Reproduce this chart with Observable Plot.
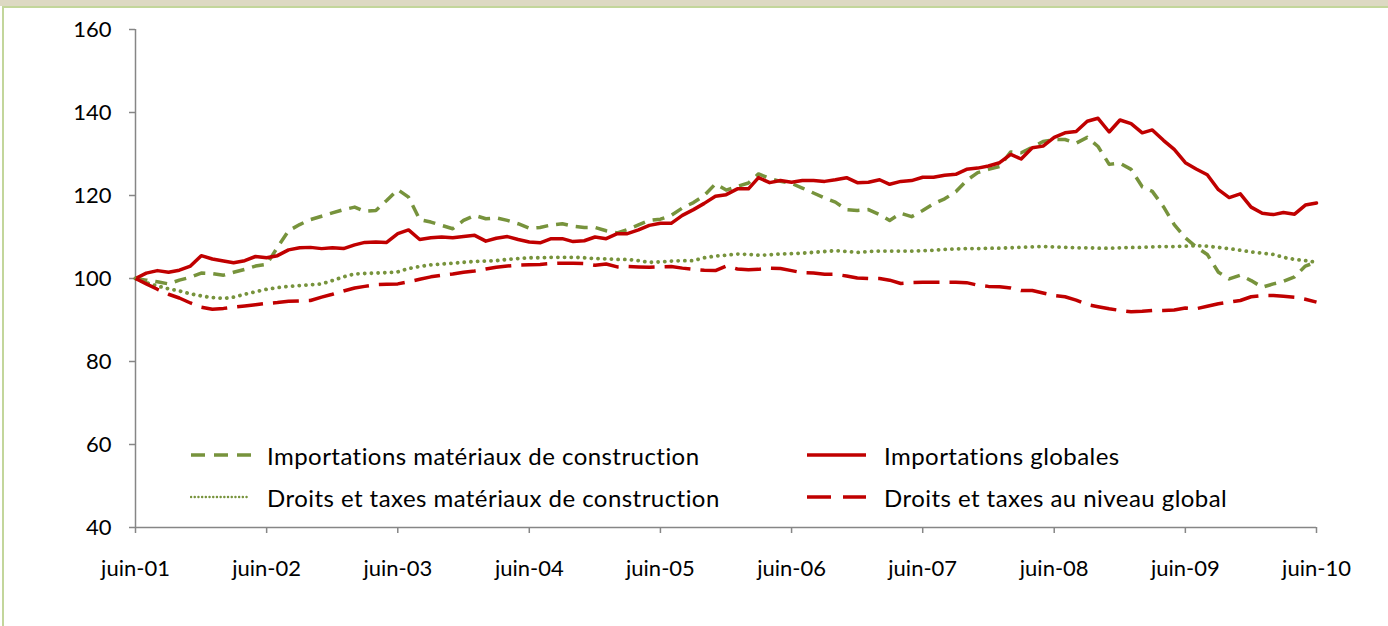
<!DOCTYPE html>
<html>
<head>
<meta charset="utf-8">
<script src="https://cdn.jsdelivr.net/npm/d3@7"></script>
<script src="https://cdn.jsdelivr.net/npm/@observablehq/plot@0.6"></script>
<style>
  html, body { margin: 0; padding: 0; background: #ffffff; }
  #wrap { position: relative; width: 1388px; height: 626px; overflow: hidden; font-family: Lato, "Open Sans", sans-serif; font-variant-ligatures: none; }
  #band { position: absolute; left: 0; top: 0; width: 1388px; height: 6px; background: #ddd9c3; z-index: 3; }
  #bandline { position: absolute; left: 2px; top: 6px; width: 1386px; height: 2px; background: #c3d69b; z-index: 3; }
  #leftline { position: absolute; left: 2px; top: 6px; width: 2px; height: 620px; background: #c3d69b; z-index: 3; }
  .leg { position: absolute; display: flex; align-items: center; font-size: 24px; letter-spacing: 0.45px; color: #000; white-space: nowrap; z-index: 2; font-variant-ligatures: none; }
  svg text { font-variant-ligatures: none; }
</style>
</head>
<body>
<div id="wrap">
  <div id="band"></div>
  <div id="bandline"></div>
  <div id="leftline"></div>
  <div id="chart"></div>
  <div id="legend"></div>
</div>
<script>
// ---- data (monthly, juin-01 .. juin-10) ----
const startYear = 2001, startMonth = 5; // June 2001
const tickLabels = ["juin-01","juin-02","juin-03","juin-04","juin-05","juin-06","juin-07","juin-08","juin-09","juin-10"];
const seriesNames = [
  "Importations matériaux de construction",
  "Importations globales",
  "Droits et taxes matériaux de construction",
  "Droits et taxes au niveau global"
];
const importsMateriaux = [
  100, 99.6, 99.2, 98.7, 99.6, 100.3, 101.3, 101.2, 100.8, 101.5,
  102.2, 103, 103.4, 107.5, 111.5, 113, 114.2, 115, 115.8, 116.6,
  117.2, 116.2, 116.4, 118.8, 121.4, 119.6, 114.2, 113.6, 112.8, 112,
  114, 115.2, 114.4, 114.6, 114, 113.2, 112.1, 112.3, 112.9, 113.2,
  112.6, 112.3, 112.3, 111.5, 111, 111.8, 112.9, 114, 114.3, 115.2,
  117, 118.3, 120, 122.8, 121.3, 122.2, 123, 125.2, 124.1, 123.4,
  122.9, 121.8, 120.6, 119.4, 118.4, 116.6, 116.4, 116.6, 115.4, 114,
  115.7, 114.9, 116.4, 118, 119.2, 120.9, 123.6, 125.5, 126.3, 127,
  130.5, 130.3, 131.6, 133, 133.5, 133.5, 132.6, 134, 131.8, 127.5,
  127.8, 126.3, 122.1, 121, 117.3, 113, 109.8, 107.6, 105.8, 101.5,
  99.9, 100.8, 99.5, 97.9, 98.7, 99.3, 100.4, 103, 104
];
const importsGlobales = [
  100, 101.3, 101.9, 101.5, 102, 103, 105.5, 104.7, 104.2, 103.8,
  104.3, 105.3, 105, 105.5, 106.9, 107.4, 107.5, 107.2, 107.4, 107.2,
  108.1, 108.7, 108.8, 108.7, 110.8, 111.7, 109.4, 109.8, 110, 109.8,
  110.1, 110.4, 109, 109.7, 110.1, 109.4, 108.8, 108.6, 109.6, 109.6,
  108.9, 109.1, 110, 109.6, 110.8, 110.8, 111.7, 112.8, 113.3, 113.3,
  115.2, 116.6, 118.1, 119.8, 120.2, 121.6, 121.6, 124.3, 123.1, 123.6,
  123.2, 123.6, 123.6, 123.4, 123.8, 124.3, 123.1, 123.2, 123.8, 122.7,
  123.4, 123.6, 124.4, 124.4, 124.9, 125.1, 126.3, 126.6, 127.1, 127.9,
  129.9, 128.8, 131.5, 131.9, 134, 135.1, 135.4, 137.9, 138.6, 135.3,
  138.2, 137.3, 135.1, 135.8, 133.3, 131.1, 127.9, 126.4, 125, 121.4,
  119.5, 120.4, 117.2, 115.7, 115.4, 115.9, 115.5, 117.7, 118.2
];
const droitsMateriaux = [
  100, 99, 98.2, 97.5, 97, 96.3, 95.8, 95.4, 95.2, 95.5,
  96.2, 96.8, 97.4, 97.8, 98.1, 98.3, 98.5, 98.7, 99.5, 100.4,
  101.1, 101.2, 101.3, 101.4, 101.6, 102.4, 102.9, 103.3, 103.5, 103.7,
  103.9, 104.1, 104.2, 104.3, 104.6, 104.8, 105, 105, 105.1, 105.1,
  105.1, 105, 104.8, 104.7, 104.6, 104.6, 104.3, 103.9, 104, 104.2,
  104.3, 104.3, 105, 105.4, 105.6, 105.9, 105.8, 105.6, 105.7, 105.9,
  106, 106.1, 106.3, 106.5, 106.7, 106.5, 106.3, 106.5, 106.6, 106.6,
  106.6, 106.6, 106.7, 106.8, 107, 107.1, 107.2, 107.2, 107.3, 107.3,
  107.4, 107.5, 107.6, 107.7, 107.6, 107.5, 107.4, 107.4, 107.3, 107.3,
  107.4, 107.5, 107.5, 107.6, 107.7, 107.7, 107.8, 107.9, 107.8, 107.5,
  107.2, 106.8, 106.4, 106.1, 105.8, 105.1, 104.6, 104.3, 103.9
];
const droitsGlobal = [
  100, 98.7, 97.4, 96.2, 95.3, 94.1, 93.1, 92.6, 92.8, 93.1,
  93.4, 93.7, 94, 94.2, 94.5, 94.6, 94.7, 95.5, 96.2, 97,
  97.7, 98.1, 98.5, 98.6, 98.7, 99.2, 99.8, 100.4, 100.8, 101.1,
  101.5, 101.8, 102.3, 102.7, 103, 103.2, 103.3, 103.4, 103.6, 103.7,
  103.7, 103.6, 103.2, 103.5, 102.8, 102.9, 102.8, 102.7, 102.8, 102.9,
  102.5, 102.2, 102, 101.9, 103, 102.3, 102.1, 102.2, 102.5, 102.4,
  101.9, 101.4, 101.3, 101, 101, 100.6, 100.1, 100, 100, 99.6,
  98.8, 99, 99.1, 99.1, 99.1, 99.1, 99, 98.4, 98.1, 98,
  97.7, 97.1, 97.1, 96.5, 95.9, 95.6, 94.8, 93.7, 93.2, 92.7,
  92.3, 92, 92.1, 92.3, 92.3, 92.4, 92.9, 92.7, 93.3, 93.9,
  94.3, 94.7, 95.6, 95.9, 95.9, 95.7, 95.5, 95, 94.3
];
const yTicks = [40, 60, 80, 100, 120, 140, 160];

// ---- build ----
const start = new Date(Date.UTC(startYear, startMonth, 1));
const dateAt = i => d3.utcMonth.offset(start, i);
const toRows = arr => arr.map((v, i) => ({date: dateAt(i), v}));
const tickDates = tickLabels.map((_, i) => d3.utcYear.offset(start, i));
const labelOf = new Map(tickDates.map((d, i) => [+d, tickLabels[i]]));

const green = "#77933c", red = "#c00000", axisGray = "#868686";
const styles = [
  {data: importsMateriaux, stroke: green, width: 3.5, dash: "12,8", cap: "butt"},
  {data: importsGlobales, stroke: red, width: 3.5, dash: null, cap: "round"},
  {data: droitsMateriaux, stroke: green, width: 3.8, dash: "0.1,6.6", cap: "round"},
  {data: droitsGlobal, stroke: red, width: 3.5, dash: "26,10", cap: "butt"}
];

const chart = Plot.plot({
  width: 1388,
  height: 626,
  marginLeft: 135,
  marginRight: 72,
  marginTop: 29,
  marginBottom: 99,
  style: {fontFamily: "Lato, 'Open Sans', sans-serif", fontSize: "22px", color: "#000", background: "transparent"},
  x: {type: "utc", domain: [dateAt(0), dateAt(tickLabels.length * 12 - 12)]},
  y: {domain: [40, 160]},
  marks: [
    Plot.axisY({ticks: yTicks, tickSize: 6, tickPadding: 18, stroke: axisGray, strokeWidth: 1.5, label: null, fill: "#000"}),
    Plot.axisX({ticks: tickDates, tickFormat: d => labelOf.get(+d), tickSize: 6, tickPadding: 27, stroke: axisGray, strokeWidth: 1.5, label: null, fill: "#000"}),
    Plot.ruleX([dateAt(0)], {stroke: axisGray, strokeWidth: 1.5}),
    Plot.ruleY([40], {stroke: axisGray, strokeWidth: 1.5}),
    ...styles.map(s => Plot.line(toRows(s.data), {
      x: "date", y: "v", stroke: s.stroke, strokeWidth: s.width,
      strokeDasharray: s.dash, strokeLinecap: s.cap, strokeLinejoin: "round"
    }))
  ]
});
document.getElementById("chart").appendChild(chart);

// ---- legend (inside plot area, as in the reference) ----
const legendPos = [
  {left: 190, top: 456}, {left: 806, top: 456},
  {left: 190, top: 498}, {left: 806, top: 498}
];
const legendSample = [
  {w: 66, dash: "14,9", cap: "butt", width: 3.5},
  {w: 60, dash: null, cap: "butt", width: 3.5},
  {w: 60, dash: "0.1,3.6", cap: "round", width: 2.4},
  {w: 60, dash: "24,12", cap: "butt", width: 3.5}
];
const legendBox = 77; // sample box width; text follows
const legend = document.getElementById("legend");
seriesNames.forEach((name, i) => {
  const p = legendPos[i], s = legendSample[i], st = styles[i];
  const div = document.createElement("div");
  div.className = "leg";
  div.style.left = p.left + "px";
  div.style.top = (p.top - 16) + "px";
  div.style.height = "30px";
  const ns = "http://www.w3.org/2000/svg";
  const svg = document.createElementNS(ns, "svg");
  svg.setAttribute("width", legendBox + (i % 2));
  svg.setAttribute("height", 10);
  const ln = document.createElementNS(ns, "line");
  ln.setAttribute("x1", 1); ln.setAttribute("x2", s.w);
  ln.setAttribute("y1", 5); ln.setAttribute("y2", 5);
  ln.setAttribute("stroke", st.stroke);
  ln.setAttribute("stroke-width", s.width);
  ln.setAttribute("stroke-linecap", s.cap);
  if (s.dash) ln.setAttribute("stroke-dasharray", s.dash);
  svg.appendChild(ln);
  div.appendChild(svg);
  const span = document.createElement("span");
  span.textContent = name;
  div.appendChild(span);
  legend.appendChild(div);
});
</script>
</body>
</html>
